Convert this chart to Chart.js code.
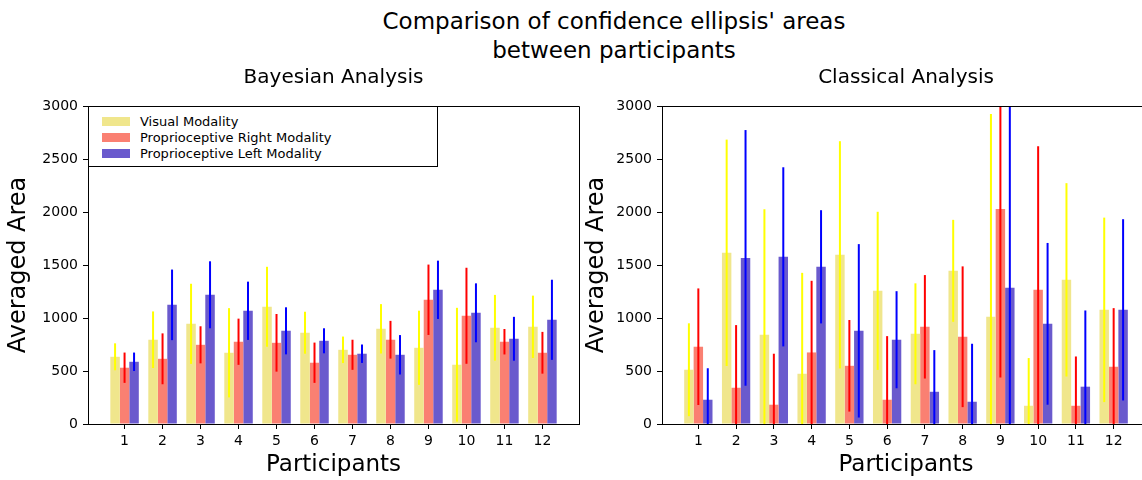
<!DOCTYPE html>
<html>
<head>
<meta charset="utf-8">
<title>Confidence ellipsis areas</title>
<script src="https://cdn.jsdelivr.net/npm/chart.js@4.4.1/dist/chart.umd.min.js"></script>
<style>
  html, body { margin: 0; padding: 0; overflow: hidden; background: #fff; }
  body { width: 1142px; height: 480px; position: relative; font-family: 'DejaVu Sans', sans-serif; color: #000; }
  #suptitle { position: absolute; left: 0; top: 7px; width: 1228px; text-align: center; font-size: 23px; line-height: 28.5px; white-space: nowrap; }
  .wrap { position: absolute; top: 0; height: 480px; }
  #wrapLeft { left: 0; width: 582px; }
  #wrapRight { left: 575px; width: 578px; }
  #legend { position: absolute; left: 88px; top: 106px; width: 350px; height: 61px; box-sizing: border-box;
            border: 1px solid #000; background: #fff; padding-top: 6px; font-size: 13px; }
  #legend .item { display: flex; align-items: center; height: 16.3px; padding-left: 13px; white-space: nowrap; }
  #legend .swatch { display: inline-block; width: 28px; height: 9px; margin-right: 10px; }
</style>
</head>
<body>
<div id="suptitle">Comparison of confidence ellipsis' areas<br>between participants</div>
<div class="wrap" id="wrapLeft"><canvas id="bayesChart"></canvas></div>
<div class="wrap" id="wrapRight"><canvas id="classicChart"></canvas></div>
<div id="legend"></div>
<script>
const participants = [1, 2, 3, 4, 5, 6, 7, 8, 9, 10, 11, 12];
const yTicks = [0, 500, 1000, 1500, 2000, 2500, 3000];
const seriesLabels = ['Visual Modality', 'Proprioceptive Right Modality', 'Proprioceptive Left Modality'];
const barColors = ['#f0e68c', '#fa8072', '#6a5acd'];
const errColors = ['#ffff00', '#ff0000', '#0000ff'];

// Bayesian analysis: mean area and error half-length per participant
const bayesVisual = [634, 795, 945, 672, 1106, 861, 700, 898, 719, 559, 908, 917];
const bayesVisualErr = [127, 267, 378, 421, 377, 198, 125, 233, 350, 537, 310, 294];
const bayesRight = [531, 615, 747, 776, 766, 578, 653, 795, 1172, 1021, 776, 672];
const bayesRightErr = [143, 240, 175, 218, 272, 190, 142, 178, 332, 453, 120, 197];
const bayesLeft = [587, 1124, 1219, 1068, 879, 785, 663, 653, 1266, 1049, 804, 983];
const bayesLeftErr = [87, 333, 316, 275, 222, 118, 87, 186, 275, 278, 207, 378];

// Classical analysis
const classicVisual = [512, 1615, 842, 474, 1596, 1256, 851, 1445, 1011, 172, 1360, 1077];
const classicVisualErr = [438, 1068, 1184, 952, 1072, 746, 476, 481, 1914, 450, 912, 870];
const classicRight = [729, 342, 182, 675, 549, 229, 917, 823, 2029, 1266, 172, 540];
const classicRightErr = [550, 591, 481, 676, 432, 600, 488, 664, 1590, 1354, 465, 553];
const classicLeft = [229, 1567, 1577, 1483, 879, 795, 304, 210, 1285, 945, 352, 1077];
const classicLeftErr = [297, 1206, 845, 534, 818, 458, 393, 547, 1800, 763, 719, 855];

Chart.defaults.font.family = "'DejaVu Sans', sans-serif";
Chart.defaults.color = '#000';

// vertical error bars centred on each bar, clipped to the plot area
const errorBarPlugin = {
    id: 'errorBars',
    afterDatasetsDraw(chart) {
        const { ctx, chartArea: a, scales: { y } } = chart;
        ctx.save();
        ctx.beginPath();
        ctx.rect(a.left, a.top, a.right - a.left, a.bottom - a.top);
        ctx.clip();
        chart.data.datasets.forEach((ds, di) => {
            const meta = chart.getDatasetMeta(di);
            ctx.strokeStyle = ds.errorColor;
            ctx.lineWidth = 2;
            meta.data.forEach((bar, i) => {
                const m = ds.data[i].y, e = ds.errorBars[i];
                ctx.beginPath();
                ctx.moveTo(bar.x, y.getPixelForValue(m - e));
                ctx.lineTo(bar.x, y.getPixelForValue(m + e));
                ctx.stroke();
            });
        });
        ctx.restore();
    }
};

// top and right spines
const framePlugin = {
    id: 'frame',
    afterDraw(chart) {
        const { ctx, chartArea: a } = chart;
        ctx.save();
        ctx.strokeStyle = '#000';
        ctx.lineWidth = 1;
        ctx.beginPath();
        ctx.moveTo(Math.round(a.left) + 0.5, Math.round(a.top) + 0.5);
        ctx.lineTo(Math.round(a.right) + 0.5, Math.round(a.top) + 0.5);
        ctx.lineTo(Math.round(a.right) + 0.5, Math.round(a.bottom) + 0.5);
        ctx.stroke();
        ctx.restore();
    }
};

function makeChart(id, title, series, errors, yWidth, yTitlePad) {
    const datasets = series.map((vals, k) => ({
        label: seriesLabels[k],
        data: participants.map((p, i) => ({ x: p, y: vals[i] })),
        backgroundColor: barColors[k],
        borderWidth: 0,
        errorBars: errors[k],
        errorColor: errColors[k],
        categoryPercentage: 0.75,
        barPercentage: 1.0
    }));

    return new Chart(document.getElementById(id), {
        type: 'bar',
        data: { datasets },
        options: {
            responsive: true,
            maintainAspectRatio: false,
            animation: false,
            layout: { padding: { top: 0, right: 3, bottom: 0, left: 0 } },
            plugins: {
                legend: { display: false },
                tooltip: { enabled: false },
                title: {
                    display: true,
                    fullSize: false,
                    text: title,
                    color: '#000',
                    font: { size: 20, weight: 'normal' },
                    padding: { top: 66, bottom: 16 }
                }
            },
            scales: {
                x: {
                    type: 'linear',
                    min: 0.0375,
                    max: 12.9625,
                    offset: false,
                    afterBuildTicks: s => { s.ticks = participants.map(v => ({ value: v })); },
                    afterFit: s => { s.height = 56; },
                    grid: { offset: false, drawOnChartArea: false, drawTicks: true, tickLength: 5, color: '#000', tickColor: '#000' },
                    border: { display: true, color: '#000' },
                    ticks: { color: '#000', font: { size: 14 }, padding: 4, maxRotation: 0, autoSkip: false },
                    title: { display: true, text: 'Participants', color: '#000', font: { size: 23 }, padding: { top: 0, bottom: 1 } }
                },
                y: {
                    min: 0,
                    max: 3000,
                    afterBuildTicks: s => { s.ticks = yTicks.map(v => ({ value: v })); },
                    afterFit: s => { s.width = yWidth; },
                    grid: { drawOnChartArea: false, drawTicks: true, tickLength: 5, color: '#000', tickColor: '#000' },
                    border: { display: true, color: '#000' },
                    ticks: { color: '#000', font: { size: 14 }, padding: 5, callback: v => String(v) },
                    title: { display: true, text: 'Averaged Area', color: '#000', font: { size: 24 }, padding: { top: yTitlePad, bottom: 0 } }
                }
            }
        },
        plugins: [errorBarPlugin, framePlugin]
    });
}

const bayesChart = makeChart('bayesChart', 'Bayesian Analysis',
    [bayesVisual, bayesRight, bayesLeft],
    [bayesVisualErr, bayesRightErr, bayesLeftErr], 88, 4.8);

makeChart('classicChart', 'Classical Analysis',
    [classicVisual, classicRight, classicLeft],
    [classicVisualErr, classicRightErr, classicLeftErr], 87, 7.4);

// legend box inside the Bayesian plot, built from the chart's datasets
const legendEl = document.getElementById('legend');
bayesChart.data.datasets.forEach(ds => {
    const row = document.createElement('div');
    row.className = 'item';
    const sw = document.createElement('span');
    sw.className = 'swatch';
    sw.style.background = ds.backgroundColor;
    row.appendChild(sw);
    row.appendChild(document.createTextNode(ds.label));
    legendEl.appendChild(row);
});
</script>
</body>
</html>
